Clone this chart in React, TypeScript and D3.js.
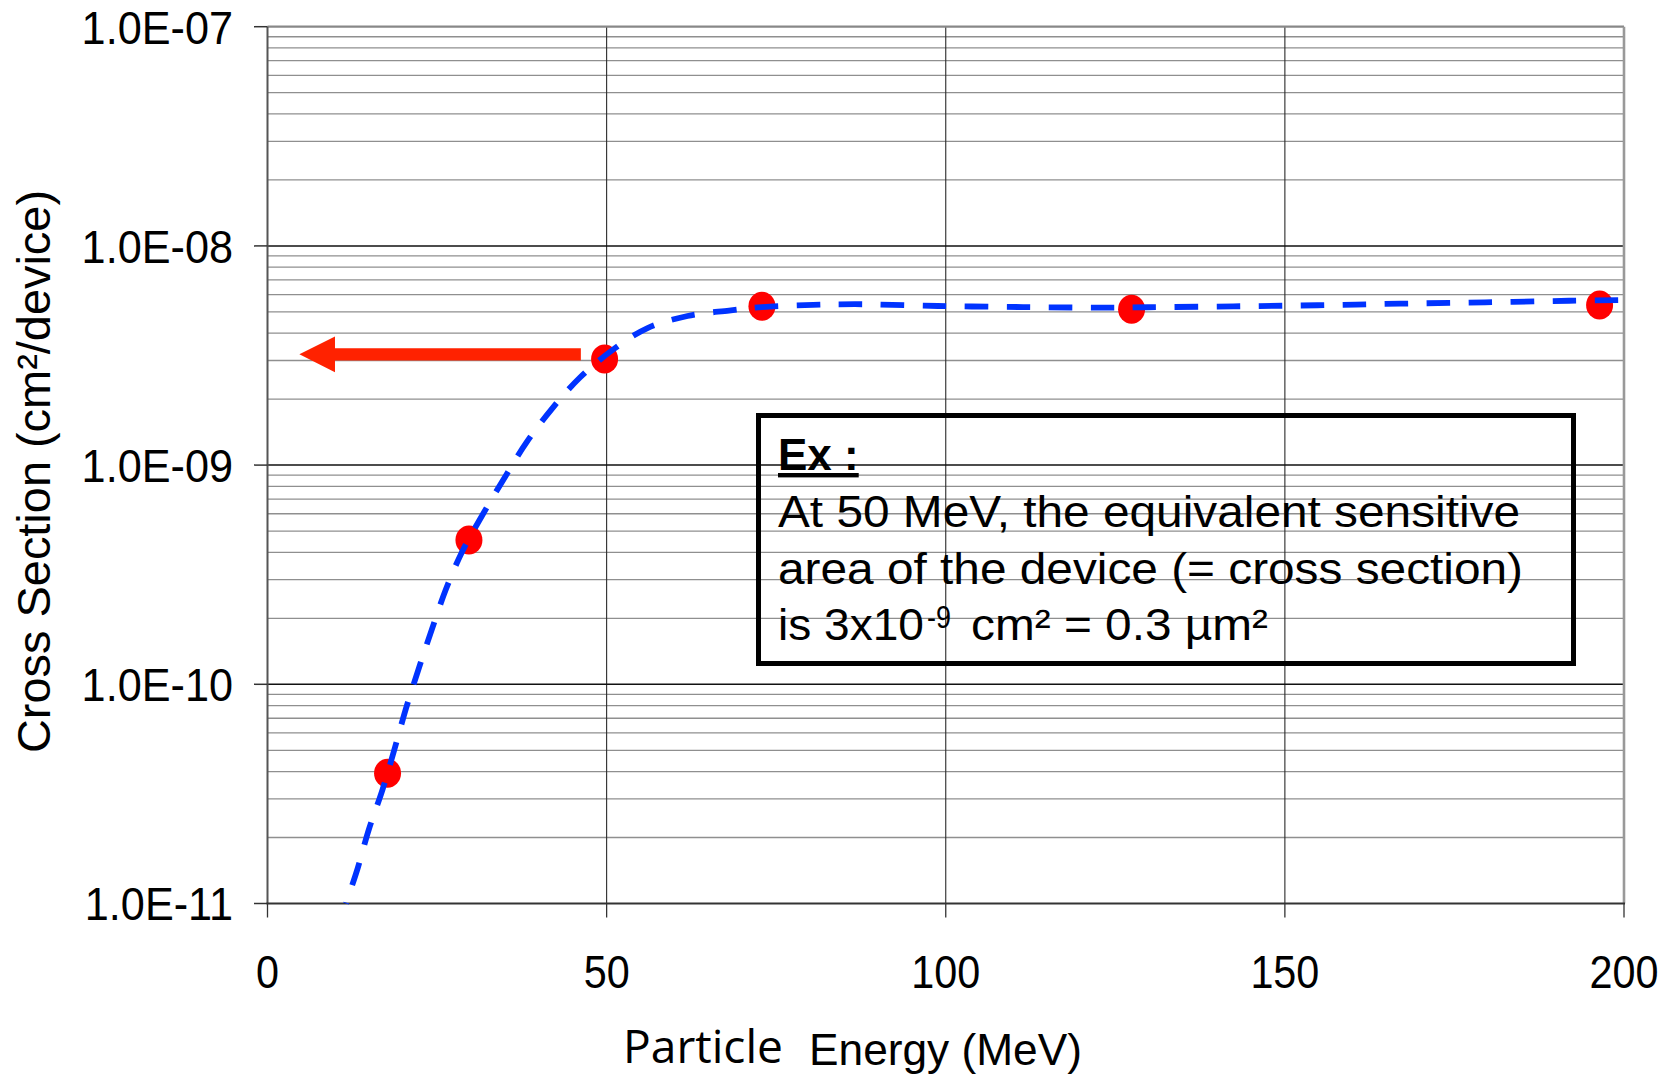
import React from "react";
import * as d3 from "d3";

// ---- data ----
const pointEnergy = [17.7, 29.7, 49.7, 72.9, 127.4, 196.4];
const pointSigma = [3.93e-11, 4.55e-10, 3.05e-9, 5.3e-9, 5.14e-9, 5.37e-9];

const fitEnergy = [
  11.57, 13.27, 14.97, 16.96, 18.73, 20.42, 22.26, 24.26, 26.32, 28.75, 31.69,
  35.02, 38.19, 42.02, 46.07, 50.87, 56.03, 61.93, 68.05, 72.91, 80.43, 86.62,
  98.86, 111.4, 122.7, 129.8, 142.4, 154.8, 167.0, 179.5, 191.9, 200,
];
const fitSigma = [
  1.0e-11, 1.44e-11, 2.19e-11, 3.31e-11, 5.07e-11, 7.76e-11, 1.17e-10, 1.79e-10,
  2.72e-10, 4.06e-10, 5.92e-10, 8.83e-10, 1.27e-9, 1.82e-9, 2.51e-9, 3.35e-9,
  4.22e-9, 4.79e-9, 5.07e-9, 5.26e-9, 5.38e-9, 5.42e-9, 5.32e-9, 5.26e-9,
  5.23e-9, 5.25e-9, 5.3e-9, 5.36e-9, 5.45e-9, 5.53e-9, 5.62e-9, 5.66e-9,
];

const xTicks = [0, 50, 100, 150, 200];
const yTickValues = [1e-11, 1e-10, 1e-9, 1e-8, 1e-7];
const yTickLabels = ["1.0E-11", "1.0E-10", "1.0E-09", "1.0E-08", "1.0E-07"];

// arrow annotation (energy of tail, tip, head base; cross-section level)
const arrowEnergy = [46.2, 4.7, 9.95];
const arrowSigma = 3.2e-9;

const boxLines = [
  "At 50 MeV, the equivalent sensitive",
  "area of the device (= cross section)",
];

const FONT = "'Liberation Sans', Arial, Helvetica, sans-serif";

export default function App() {
  const W = 1675;
  const H = 1077;
  const left = 267.5;
  const right = 1624;
  const top = 26.7;
  const bottom = 903.5;

  const x = d3.scaleLinear().domain([0, 200]).range([left, right]);
  const y = d3.scaleLog().domain([1e-11, 1e-7]).range([bottom, top]);

  const minor: number[] = [];
  for (let k = -11; k <= -8; k++) {
    for (let m = 2; m <= 9; m++) minor.push(m * Math.pow(10, k));
  }

  const line = d3
    .line<number>()
    .x((_, i) => x(fitEnergy[i]))
    .y((d) => y(d))
    .curve(d3.curveCatmullRom.alpha(0.5));
  const fitPath = line(fitSigma) || "";

  const tailX = x(arrowEnergy[0]);
  const tipX = x(arrowEnergy[1]);
  const headX = x(arrowEnergy[2]);
  const yc = y(arrowSigma);
  const sh = 6.2;
  const hh = 17.8;
  const arrowPath = `M${tailX},${yc - sh} L${headX},${yc - sh} L${headX},${yc - hh} L${tipX},${yc} L${headX},${yc + hh} L${headX},${yc + sh} L${tailX},${yc + sh} Z`;

  return (
    <svg
      width={W}
      height={H}
      style={{ position: "absolute", left: 0, top: 0, background: "#fff" }}
    >
      <rect x={0} y={0} width={W} height={H} fill="#fff" />

      {/* minor horizontal gridlines */}
      {minor.map((v, i) => (
        <line
          key={"mi" + i}
          x1={left}
          x2={right}
          y1={y(v)}
          y2={y(v)}
          stroke="#8f8f8f"
          strokeWidth={1.3}
        />
      ))}
      {/* vertical gridlines */}
      {xTicks
        .filter((v) => v > 0 && v < 200)
        .map((v) => (
          <line
            key={"vx" + v}
            x1={x(v)}
            x2={x(v)}
            y1={top}
            y2={bottom}
            stroke="#2a2a2a"
            strokeWidth={1.1}
          />
        ))}
      {/* major horizontal gridlines */}
      {yTickValues.slice(1, 4).map((v, i) => (
        <line
          key={"ma" + i}
          x1={left}
          x2={right}
          y1={y(v)}
          y2={y(v)}
          stroke="#111"
          strokeWidth={1.5}
        />
      ))}
      {/* frame */}
      <line x1={left} x2={right} y1={top} y2={top} stroke="#888" strokeWidth={2.2} />
      <line x1={right} x2={right} y1={top} y2={bottom} stroke="#999" strokeWidth={2.6} />
      <line x1={left} x2={left} y1={top} y2={bottom} stroke="#555" strokeWidth={2} />
      <line x1={left - 1} x2={right + 1} y1={bottom} y2={bottom} stroke="#333" strokeWidth={2.2} />

      {/* y ticks */}
      {yTickValues.map((v, i) => (
        <g key={"yt" + i}>
          <line x1={254} x2={left} y1={y(v)} y2={y(v)} stroke="#333" strokeWidth={1.5} />
          <text
            transform={`translate(233,${y(v) + 16.8}) scale(0.92,1)`}
            textAnchor="end"
            fontFamily={FONT}
            fontSize={47}
            fill="#000"
          >
            {yTickLabels[i]}
          </text>
        </g>
      ))}

      {/* x ticks */}
      {xTicks.map((v) => (
        <g key={"xt" + v}>
          <line x1={x(v)} x2={x(v)} y1={bottom} y2={917.5} stroke="#333" strokeWidth={1.3} />
          <text
            transform={`translate(${x(v)},988) scale(0.88,1)`}
            textAnchor="middle"
            fontFamily={FONT}
            fontSize={47}
            fill="#000"
          >
            {v}
          </text>
        </g>
      ))}

      {/* axis titles */}
      <text
        transform="translate(50,471.5) rotate(-90)"
        textAnchor="middle"
        fontFamily={FONT}
        fontSize={47}
        textLength={563}
        lengthAdjust="spacingAndGlyphs"
        fill="#000"
      >
        Cross Section (cm²/device)
      </text>
      <text
        x={623}
        y={1062.7}
        fontFamily="'Open Sans', 'Noto Sans', sans-serif"
        fontSize={45}
        textLength={160}
        lengthAdjust="spacingAndGlyphs"
        fill="#000"
      >
        Particle
      </text>
      <text
        x={809}
        y={1065}
        fontFamily={FONT}
        fontSize={44}
        textLength={273}
        lengthAdjust="spacingAndGlyphs"
        fill="#000"
      >
        Energy (MeV)
      </text>

      {/* annotation box */}
      <rect x={758.5} y={415.5} width={815} height={248} fill="none" stroke="#000" strokeWidth={5} />
      <text
        x={778}
        y={470}
        fontFamily={FONT}
        fontSize={44}
        fontWeight="bold"
        fill="#000"
        style={{ textDecoration: "underline" }}
      >
        Ex :
      </text>
      <text
        x={778}
        y={526.7}
        fontFamily={FONT}
        fontSize={44}
        textLength={742}
        lengthAdjust="spacingAndGlyphs"
        fill="#000"
      >
        {boxLines[0]}
      </text>
      <text
        x={778}
        y={584}
        fontFamily={FONT}
        fontSize={44}
        textLength={745}
        lengthAdjust="spacingAndGlyphs"
        fill="#000"
      >
        {boxLines[1]}
      </text>
      <text
        x={778}
        y={640}
        fontFamily={FONT}
        fontSize={44}
        textLength={146}
        lengthAdjust="spacingAndGlyphs"
        fill="#000"
      >
        is 3x10
      </text>
      <text
        x={927}
        y={628}
        fontFamily={FONT}
        fontSize={31}
        textLength={24}
        lengthAdjust="spacingAndGlyphs"
        fill="#000"
      >
        -9
      </text>
      <text
        x={971}
        y={640}
        fontFamily={FONT}
        fontSize={44}
        textLength={297}
        lengthAdjust="spacingAndGlyphs"
        fill="#000"
      >
        cm² = 0.3 µm²
      </text>

      {/* arrow */}
      <path d={arrowPath} fill="#ff2200" />

      {/* data points */}
      {pointEnergy.map((e, i) => (
        <ellipse
          key={"p" + i}
          cx={x(e)}
          cy={y(pointSigma[i])}
          rx={13.5}
          ry={14.5}
          fill="#ff0000"
        />
      ))}

      {/* fitted curve */}
      <path
        d={fitPath}
        fill="none"
        stroke="#0033ff"
        strokeWidth={5.8}
        strokeDasharray="23.5 18.5"
        strokeDashoffset={22.5}
      />
    </svg>
  );
}
